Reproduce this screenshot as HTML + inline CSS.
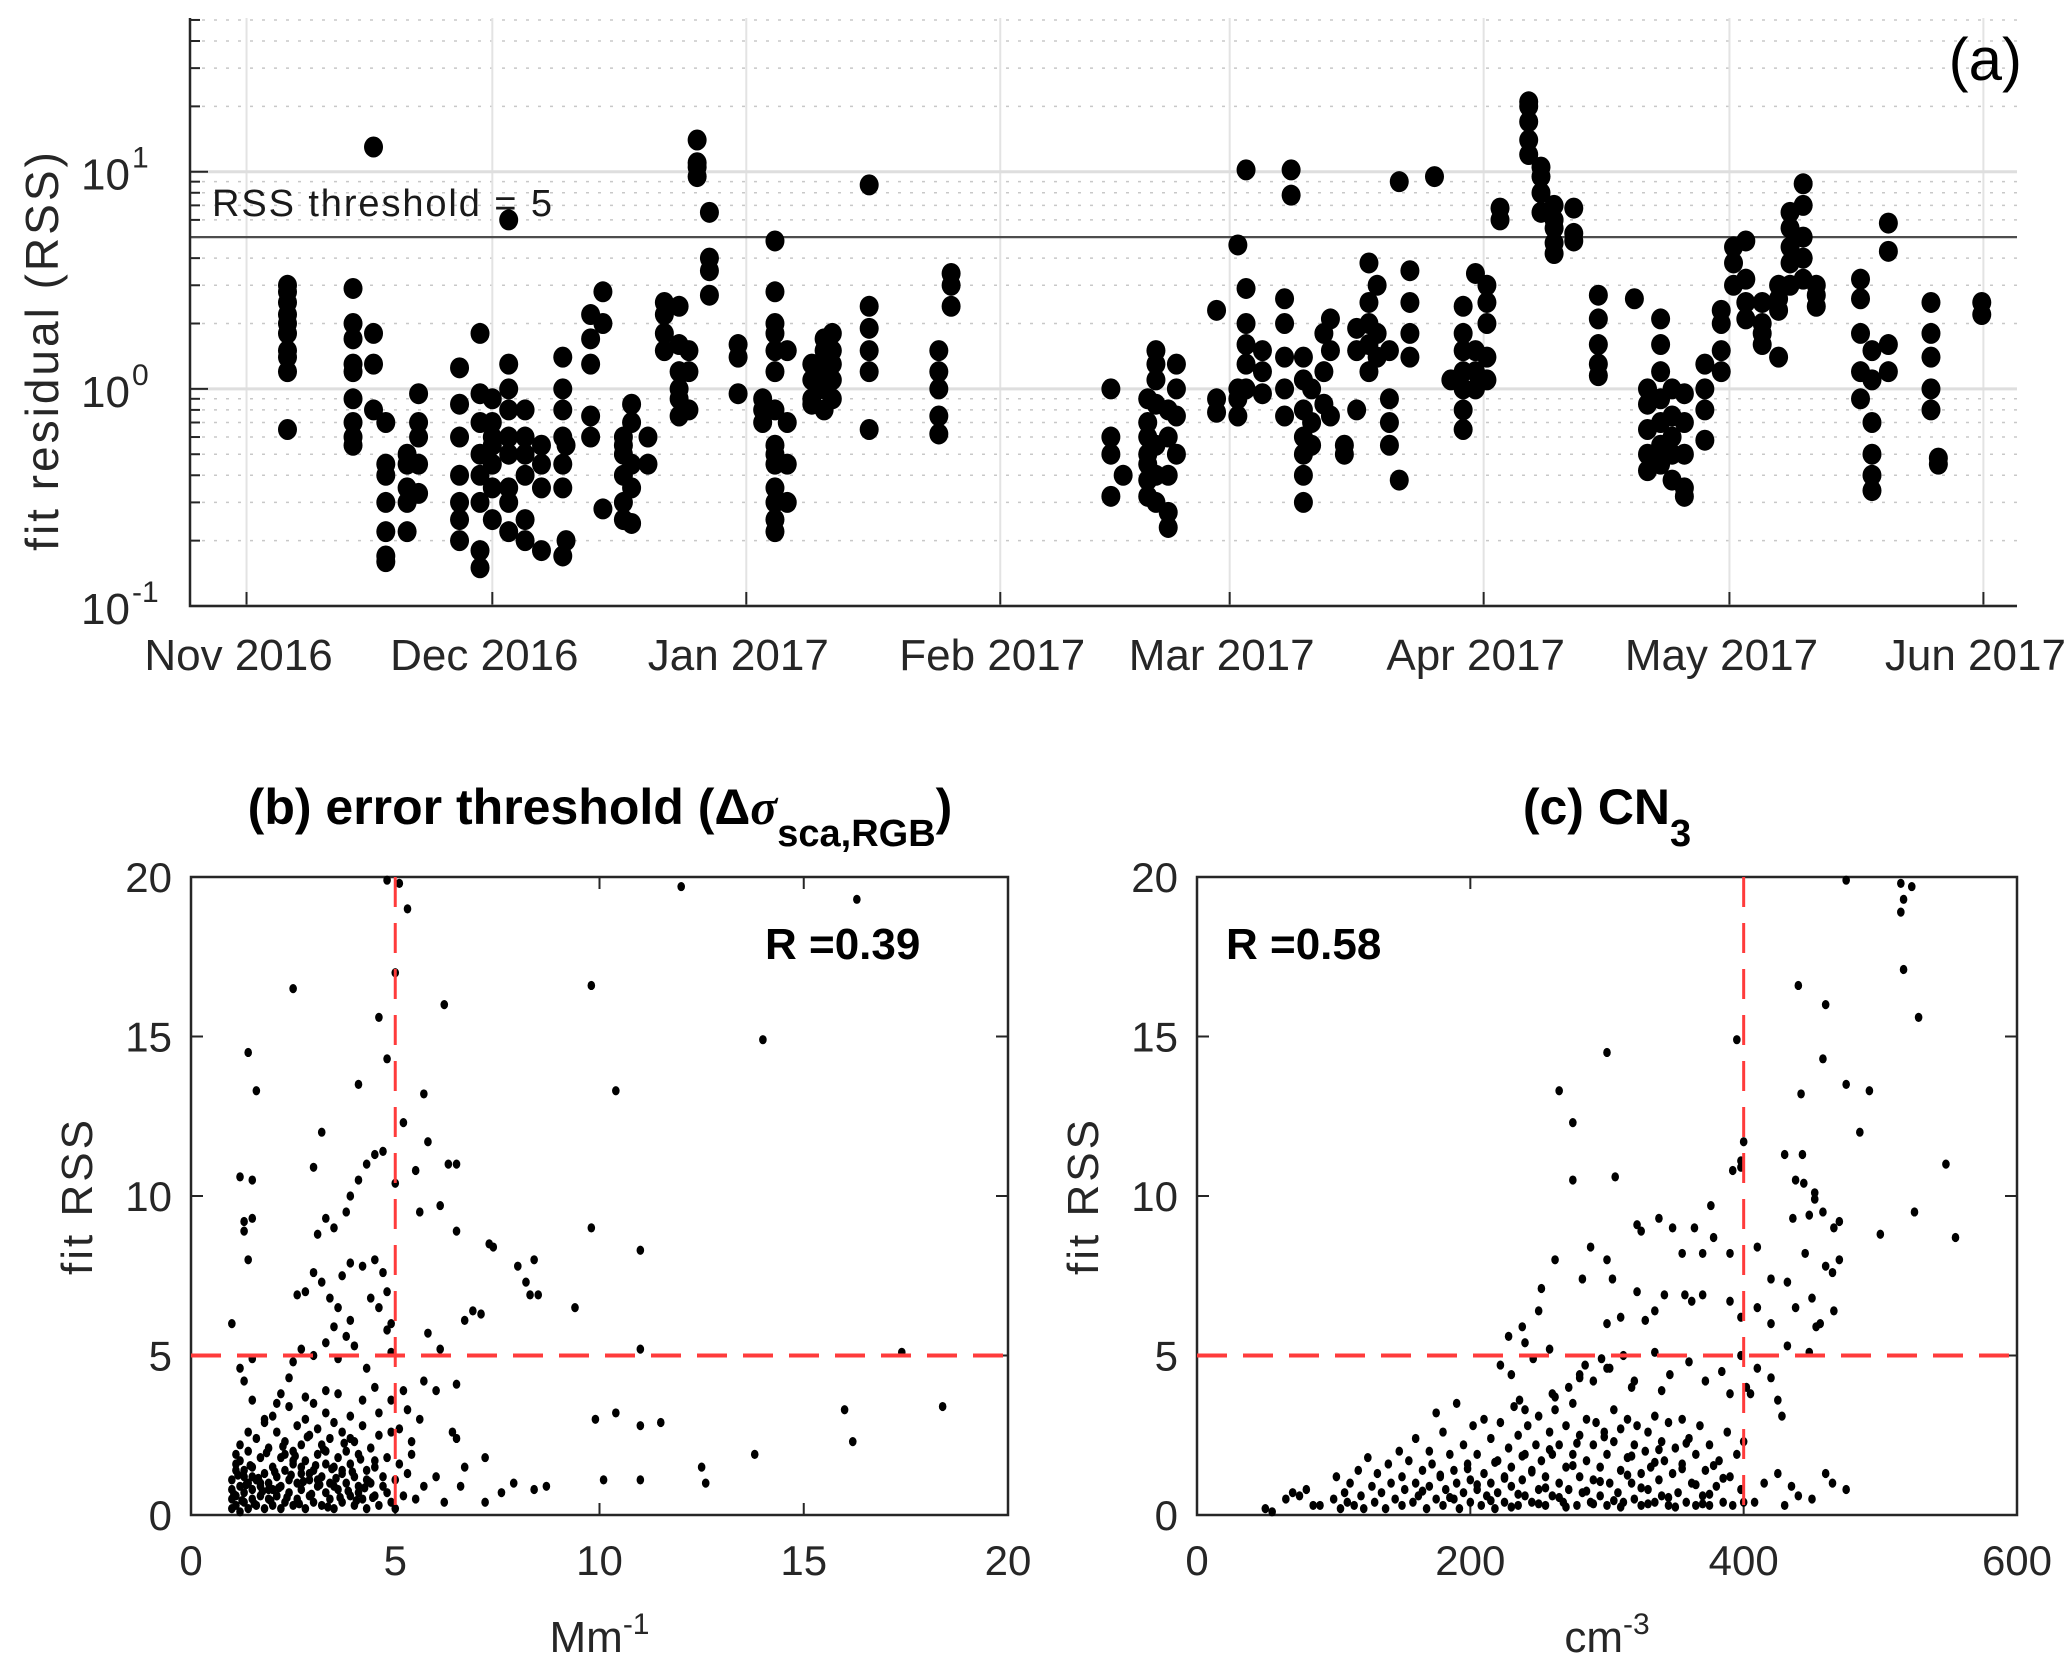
<!DOCTYPE html>
<html><head><meta charset="utf-8"><style>
html,body{margin:0;padding:0;background:#fff;}
svg{display:block;font-family:"Liberation Sans",Arial,sans-serif;}
</style></head><body>
<svg id="fig" width="2067" height="1667" viewBox="0 0 2067 1667" xmlns="http://www.w3.org/2000/svg">
<g id="pa"></g>
<g id="pb"></g>
<g id="pc"></g>
</svg>
<script>
// Panel a data: day offset from 1 Nov 2016, and RSS values per column
const aDays = [5,13,15.5,17,19.6,21,26,28.5,30,32,34,36,38.6,39,42,43.5,46,47,49,51,52.8,54,55,56.5,60,63,64.5,66,69,70.5,71.5,76,84.5,86,
105.5,107,110,111,112.5,113.5,118.4,121,122,124,126.7,127.5,129,130,131.5,132.3,134,135.5,137,138,139.5,140.7,142,145,147,148.5,150,151.4,153,156.5,158,159.6,162,165,169.4,171,172.6,174,175.5,178,180,181.5,183,185,187,188.4,190,191.6,197,198.4,200.4,205.6,206.5,211.8];
const aVals = [
[2.5,2.2,1.8,1.5,1.2,2.0,2.8,3.0,0.65,1.4],[2.9,2.0,1.7,1.2,0.9,0.7,0.55,0.6,1.3],[13,1.8,1.3,0.8],[0.4,0.3,0.22,0.16,0.17,0.7,0.45],[0.45,0.35,0.22,0.3,0.5],[0.6,0.45,0.33,0.7,0.95],
[0.85,0.6,0.4,0.3,0.25,0.2,1.25],[0.5,0.4,0.3,0.15,0.18,0.95,1.8,0.7],[0.7,0.55,0.45,0.35,0.25,0.6,0.9],[6.0,1.3,1.0,0.8,0.6,0.5,0.35,0.3,0.22],[0.8,0.5,0.4,0.25,0.2,0.6],[0.45,0.35,0.55,0.18],
[1.4,1.0,0.8,0.6,0.45,0.35,0.17],[0.2,0.55],[2.2,1.7,1.3,0.75,0.6],[2.8,2.0,0.28],[0.6,0.5,0.4,0.3,0.25,0.55],[0.85,0.7,0.45,0.35,0.24],[0.6,0.45],[2.5,2.2,1.8,1.5],
[2.4,1.6,1.2,1.0,0.9,0.75],[1.5,1.2,0.8],[14,11,9.5,10.5],[6.5,4,3.5,2.7],[1.6,1.4,0.95],[0.8,0.9,0.7],[4.8,2.8,2.0,1.8,1.5,1.2,0.8,0.55,0.5,0.45,0.35,0.3,0.25,0.22],[1.5,0.7,0.45,0.3],
[1.3,1.1,0.9,0.85],[1.7,1.5,1.3,1.2,1.0,0.8],[1.8,1.5,1.3,1.1,0.9],[8.7,2.4,1.9,1.5,1.2,0.65],[1.5,1.2,1.0,0.75,0.62],[3.4,3.0,2.4],
[1.0,0.6,0.5,0.32],[0.4],[0.9,0.7,0.6,0.5,0.45,0.38,0.32],[1.5,1.3,1.1,0.85,0.55,0.4,0.3],[0.8,0.6,0.4,0.27,0.23],[1.3,1.0,0.75,0.5],[2.3,0.9,0.78],[4.6,1.0,0.9,0.75],
[10.2,2.9,2.0,1.6,1.3,1.0],[1.5,1.2,0.95],[2.6,2.0,1.4,1.0,0.75],[10.2,7.8],[1.4,1.1,0.8,0.6,0.5,0.4,0.3],[1.0,0.7,0.55],[1.8,1.2,0.85],[2.1,1.5,0.75],[0.55,0.5],[1.9,1.5,0.8],
[3.8,2.5,2.0,1.6,1.2],[3.0,1.8,1.4],[1.5,0.9,0.7,0.55],[9.0,0.38],[3.5,2.5,1.8,1.4],[9.5],[1.1],[2.4,1.8,1.5,1.2,1.0,0.8,0.65],[3.4,1.5,1.2,1.0],[3.0,2.5,2.0,1.4,1.1],[6.8,6.0],
[21,20,17,14,12],[10.5,9.5,8,6.5],[7,6,5.5,4.7,4.2],[6.8,5.2,4.8],[2.7,2.1,1.6,1.3,1.15],[2.6],[1.0,0.85,0.65,0.5,0.42],[2.1,1.6,1.2,0.9,0.7,0.55,0.45],[1.0,0.75,0.6,0.5,0.38],
[0.95,0.7,0.5,0.35,0.32],[1.3,1.0,0.8,0.58],[2.3,2.0,1.5,1.2],[4.5,3.8,3.0],[4.8,3.2,2.5,2.1],[2.5,2.0,1.8,1.6],[3.0,2.6,2.3,1.4],[6.5,5.5,4.5,3.8,3.0],[8.8,7.0,5.0,4.0,3.2],[3.0,2.7,2.4],
[3.2,2.6,1.8,1.2,0.9],[1.5,1.1,0.7,0.5,0.4,0.34],[5.8,4.3,1.6,1.2],[2.5,1.8,1.4,1.0,0.8],[0.48,0.45],[2.5,2.2]];
const monthLabels = ["Nov 2016","Dec 2016","Jan 2017","Feb 2017","Mar 2017","Apr 2017","May 2017","Jun 2017"];
const monthDays = [0,30,61,92,120,151,181,212];
const rssThreshold = 5;

// Panel b data (Mm^-1, RSS)
const bX = [1.0,1.2,1.3,1.3,1.4,1.5,1.4,1.6,1.5,2.5,3.2,3.0,3.1,3.3,3.5,3.8,3.9,4.1,4.3,4.5,4.7,4.1,4.6,4.8,4.8,5.1,5.3,5.0,5.2,5.0,5.7,5.8,6.2,6.3,6.5,5.5,6.1,5.6,6.5,7.3,7.4,8.0,8.4,8.2,8.3,8.5,9.4,9.8,9.8,10.4,11.0,12.0,14.0,16.3,17.4,11.0,18.4,16.0,16.2,13.8,12.5,12.6,11.5,11.0,10.4,9.9,10.1,11.0,8.7,8.4,7.9,7.6,7.2,6.6,6.5,6.4,6.5,6.7,7.2,6.0,5.8,5.7,6.1,6.7,6.9,7.1,5.6,5.4,5.3,5.5,5.7,6.0,6.2,
2.6,2.8,3.0,3.2,3.4,3.6,3.7,3.9,4.2,4.5,4.7,4.4,4.6,4.8,4.9,4.8,3.9,3.8,3.5,3.3,3.0,2.7,2.5,2.4,2.2,3.6,4.0,4.3,4.5,4.9,1.2,1.3,1.5,1.5,
1.0,1.0,1.0,1.0,1.1,1.1,1.1,1.2,1.2,1.2,1.3,1.3,1.3,1.4,1.4,1.4,1.5,1.5,1.5,1.6,1.6,1.6,1.7,1.7,1.7,1.8,1.8,1.8,1.9,1.9,1.9,2.0,2.0,2.0,2.0,2.1,2.1,2.1,2.2,2.2,2.2,2.3,2.3,2.3,2.4,2.4,2.4,2.5,2.5,2.5,2.6,2.6,2.6,2.7,2.7,2.7,2.8,2.8,2.8,2.9,2.9,2.9,3.0,3.0,3.0,3.1,3.1,3.1,3.2,3.2,3.2,3.3,3.3,3.3,3.4,3.4,3.4,3.5,3.5,3.5,3.6,3.6,3.7,3.7,3.7,3.8,3.8,3.9,3.9,3.9,4.0,4.0,4.0,4.1,4.1,4.2,4.2,4.3,4.3,4.4,4.4,4.5,4.5,4.6,4.6,4.7,4.8,4.8,4.9,4.9,5.0,5.0,5.1,5.2,5.3,5.4,5.1,5.2,4.9,4.6,4.2,3.6,3.3,2.8,2.1,1.8,1.4,1.2,1.1,
1.05,1.15,1.25,1.35,1.45,1.55,1.65,1.75,1.85,1.95,2.05,2.15,2.25,2.35,2.45,2.55,2.65,2.75,2.85,2.95,3.05,3.15,3.25,3.35,3.45,3.55,3.65,3.75,3.85,3.95,4.05,4.15,4.25,4.35,4.45,1.1,1.3,1.5,1.7,1.9,2.1,2.3,2.5,2.7,2.9,3.1,3.3,3.5,3.7,3.9,4.1,4.3,4.5,4.7];
const bY = [6.0,10.6,8.9,9.2,8.0,10.5,14.5,13.3,9.3,16.5,12,10.9,8.8,9.3,9.0,9.5,10.0,10.5,11.0,11.3,11.4,13.5,15.6,14.3,19.9,19.8,19.0,17.0,12.3,10.4,13.2,11.7,16.0,11.0,11.0,10.8,9.7,9.5,8.9,8.5,8.4,7.8,8.0,7.3,6.9,6.9,6.5,9.0,16.6,13.3,8.3,19.7,14.9,19.3,5.1,5.2,3.4,3.3,2.3,1.9,1.5,1.0,2.9,2.8,3.2,3.0,1.1,1.1,0.9,0.8,1.0,0.7,0.4,0.9,2.4,2.6,4.1,1.5,1.8,3.9,5.7,4.2,5.2,6.1,6.4,6.3,3.0,2.3,1.3,0.5,0.9,1.2,0.4,
6.9,7.0,7.6,7.3,6.8,6.5,7.5,7.9,7.8,8.0,7.6,6.8,6.5,7.0,6.0,5.8,6.1,5.6,5.9,5.4,5.0,5.2,4.8,4.3,3.8,4.9,5.3,4.6,4.0,5.1,4.6,4.2,3.6,4.9,
0.2,0.5,0.8,1.1,0.3,0.6,1.4,0.1,0.9,1.7,0.4,0.7,1.2,0.2,1.0,2.0,0.5,0.8,1.5,0.3,1.1,2.4,0.6,0.9,1.8,0.2,1.3,2.9,0.5,1.0,2.1,0.3,0.8,1.5,3.1,0.6,1.2,2.6,0.2,0.9,1.8,0.4,1.4,2.3,0.7,1.1,3.4,0.3,1.6,2.0,0.5,1.0,2.8,0.8,1.3,2.2,0.2,1.7,3.0,0.6,1.1,2.5,0.4,1.4,3.5,0.9,1.9,2.7,0.3,1.2,2.2,0.7,1.6,3.2,0.5,1.0,2.4,0.2,1.5,2.9,0.8,1.8,0.4,1.3,2.6,1.0,2.0,0.6,1.6,3.1,0.3,1.2,2.3,0.9,1.9,0.5,2.8,1.4,0.2,1.0,2.1,0.6,1.7,0.3,2.5,1.2,0.7,1.8,0.4,2.6,1.1,0.2,1.6,0.6,3.3,1.9,2.7,3.9,3.6,3.2,3.6,3.8,3.9,3.7,3.5,3.0,2.6,2.2,1.9,
0.65,1.25,0.45,0.95,1.55,0.35,1.15,0.75,1.95,0.45,1.35,0.85,2.15,0.55,1.25,1.85,0.35,1.05,2.45,0.65,1.55,0.95,2.05,0.25,1.45,1.15,0.55,2.25,0.75,1.35,0.45,1.75,0.85,1.05,0.55,1.6,1.4,1.2,1.0,0.8,0.6,1.9,1.7,1.5,1.3,1.1,2.0,0.9,1.4,2.4,0.7,1.1,1.5,0.9];

// Panel c data (cm^-3, RSS)
const cX = [475,515,523,517,515,517,528,440,460,395,300,458,265,475,442,492,275,485,400,398,430,443,392,398,438,444,452,548,275,306,525,555,500,470,466,458,448,436,452,376,364,348,338,322,325,300,288,262,252,282,304,322,342,355,370,378,390,410,420,432,445,460,465,470,438,450,466,456,420,410,398,390,370,362,357,335,328,310,300,250,238,228,240,258,222,230,236,240,246,262,272,280,284,290,296,302,312,318,335,346,360,372,384,390,398,402,410,405,420,425,428,432,448,453,
50,55,65,70,75,80,85,90,100,102,105,108,110,112,115,118,120,122,125,128,130,132,135,138,140,142,145,148,150,150,152,155,158,160,160,162,165,168,170,170,172,175,175,178,180,180,182,185,188,188,190,190,192,195,195,198,200,200,202,205,205,208,210,210,212,215,215,218,220,220,222,225,225,228,230,230,232,235,235,238,240,240,242,245,245,248,250,250,252,255,255,258,260,260,262,265,265,268,270,270,272,275,275,278,280,280,282,285,285,288,290,290,292,295,295,298,300,300,302,305,305,308,310,310,312,315,315,318,320,320,322,325,325,328,330,330,332,335,335,338,340,340,342,345,345,348,350,352,355,355,358,360,362,365,365,368,370,372,375,375,380,382,385,388,390,392,395,398,400,400,408,415,425,430,435,440,450,460,465,475,
165,185,205,215,225,235,245,255,265,275,285,295,305,315,325,335,345,355,365,375,385,178,198,218,238,258,278,298,318,338,358,378,230,250,270,290,310,330,350,370,260,280,300,320,340];
const cY = [19.9,19.8,19.7,19.3,18.9,17.1,15.6,16.6,16.0,14.9,14.5,14.3,13.3,13.5,13.2,13.3,12.3,12.0,11.7,11.1,11.3,11.3,10.8,10.9,10.5,10.4,10.1,11.0,10.5,10.6,9.5,8.7,8.8,9.2,9.0,9.5,9.4,9.3,9.9,9.7,9.0,9.0,9.3,9.1,8.9,8.0,8.4,8.0,7.1,7.4,7.4,7.0,6.9,8.2,8.2,8.7,8.2,8.4,7.4,7.3,8.2,7.8,7.6,8.0,6.5,6.8,6.4,6.0,6.0,6.5,6.2,6.7,6.9,6.7,6.9,6.4,6.1,6.2,6.0,6.4,5.9,5.6,5.4,5.2,4.7,4.4,3.6,3.3,4.9,3.7,4.0,4.3,4.7,4.2,4.9,4.6,5.0,4.0,5.1,4.4,4.8,4.2,4.5,3.8,5.0,4.0,4.6,3.8,4.3,3.6,3.1,5.3,5.1,5.9,
0.2,0.1,0.5,0.7,0.6,0.8,0.3,0.3,0.5,1.2,0.2,0.7,0.4,1.0,0.3,1.4,0.6,0.2,1.8,0.9,0.4,1.3,0.7,0.2,1.6,1.0,0.5,2.0,0.3,1.2,0.8,1.7,0.4,1.0,2.4,0.6,1.4,0.2,0.9,2.0,1.6,0.5,3.2,1.2,0.3,2.6,0.8,1.9,0.5,1.4,1.0,3.5,0.2,2.2,0.7,1.6,0.4,1.1,2.8,0.8,1.9,0.3,1.3,3.0,0.6,2.4,1.0,0.2,1.7,0.7,2.9,1.2,0.4,2.1,0.9,1.5,3.4,0.3,2.5,1.1,0.6,1.9,2.8,0.4,1.4,2.2,0.8,3.1,1.7,0.3,1.2,2.6,0.6,1.9,3.3,1.0,2.2,0.4,1.5,2.8,0.8,1.9,3.5,0.3,1.2,2.5,0.7,1.7,3.0,0.4,1.1,2.2,2.9,0.6,1.5,2.6,0.3,1.9,1.0,2.3,3.3,0.7,1.4,2.7,0.4,1.8,3.0,1.0,2.2,0.5,2.8,1.3,0.3,2.0,0.8,2.6,1.5,0.4,3.1,1.1,2.3,0.6,1.7,2.9,0.3,1.3,2.1,0.7,1.6,3.0,0.4,2.4,1.0,0.3,1.9,2.8,0.6,1.4,0.3,2.2,0.9,1.7,0.4,2.6,1.2,0.3,1.9,0.8,2.3,0.4,0.4,1.0,1.3,0.3,0.9,0.6,0.5,1.3,1.0,0.8,
0.75,0.55,0.95,0.45,1.15,0.65,1.35,0.85,0.55,1.55,0.75,1.05,0.45,1.25,0.85,1.65,0.55,1.45,0.95,0.65,1.15,1.25,1.45,1.65,1.85,2.05,2.25,2.45,1.85,2.05,2.25,1.55,0.25,0.35,0.25,0.35,0.25,0.35,0.25,0.35,3.8,4.4,4.6,4.2,3.9];
const bTicks = [0,5,10,15,20];
const cTicks = [0,200,400,600];
const yTicks = [0,5,10,15,20];

const NS = "http://www.w3.org/2000/svg";
function mk(parent, tag, attrs, text){
  const e = document.createElementNS(NS, tag);
  for (const k in attrs) e.setAttribute(k, attrs[k]);
  if (text !== undefined) e.textContent = text;
  parent.appendChild(e);
  return e;
}

// ---------- Panel a ----------
(function(){
  const g = document.getElementById('pa');
  const L=190, R=2017, T=18, B=606;
  const d0=-6.9, d1=216.1;
  const lmin=-1, lmax=1.708;
  const xs = d => L + (d-d0)/(d1-d0)*(R-L);
  const ys = v => B - (Math.log10(v)-lmin)/(lmax-lmin)*(B-T);
  for (let dec=-1; dec<=1; dec++){
    for (let m=2; m<=9; m++){
      const v=m*Math.pow(10,dec); if (Math.log10(v)>lmax) continue;
      const y=ys(v);
      const l = mk(g,'line',{x1:L,x2:R,y1:y,y2:y,stroke:'#c8c8c8','stroke-width':1.5,'stroke-dasharray':'3 9'});
      
      
      const t = mk(g,'line',{x1:L,x2:L+10,y1:y,y2:y,stroke:'#262626','stroke-width':2});
      
      
    }
  }
  monthDays.forEach((d,i)=>{
    const x=xs(d);
    const l = mk(g,'line',{x1:x,x2:x,y1:T,y2:B,stroke:'#e3e3e3','stroke-width':2});
    
    
    const t = mk(g,'line',{x1:x,x2:x,y1:B,y2:B-14,stroke:'#262626','stroke-width':2});
    
    
    const tx = mk(g,'text',{x:x-8,y:670,'font-size':44,'text-anchor':'middle',fill:'#262626'},monthLabels[i]);
    
    
  });
  [0.1,1,10].forEach((v,i)=>{
    const y=ys(v);
    const l = mk(g,'line',{x1:L,x2:R,y1:y,y2:y,stroke:'#dedede','stroke-width':3});
    
    
    const t = mk(g,'line',{x1:L,x2:L+18,y1:y,y2:y,stroke:'#262626','stroke-width':2});
    
    
    const tx = mk(g,'text',{x:130,y:y+18,'font-size':44,'text-anchor':'end',fill:'#262626'},'10');
    
    
    const sp = mk(g,'text',{x:132,y:y-4,'font-size':30,fill:'#262626'},String(i-1));
    
    
  });
  const ty=ys(rssThreshold);
  const th = mk(g,'line',{x1:L,x2:R,y1:ty,y2:ty,stroke:'#4d4d4d','stroke-width':2.2});
  
  
  const tl = mk(g,'text',{x:212,y:216,'font-size':38,fill:'#1a1a1a','textLength':340},'RSS threshold = 5');
  
  
  aDays.forEach((d,i)=>{
    aVals[i].forEach(v=>{
      const c = mk(g,'ellipse',{cx:xs(d),cy:ys(v),rx:9.5,ry:10.5,fill:'#000'});
      
      
    });
  });
  const ax = mk(g,'path',{d:`M${L},${T} L${L},${B} L${R},${B}`,fill:'none',stroke:'#262626','stroke-width':2.5});
  
  
  const yl = mk(g,'text',{x:0,y:0,'font-size':46,'text-anchor':'middle',fill:'#262626',transform:'translate(58,350) rotate(-90)','letter-spacing':'3'},'fit residual (RSS)');
  
  
  const pl = mk(g,'text',{x:2022,y:80,'font-size':60,'text-anchor':'end',fill:'#000'},'(a)');
  
  
})();

// ---------- Panels b, c ----------
function scatter(id, L, R, xmax, xT, X, Y, vline, unit, unitSup, rLabel, rx, ylx, tickLblX){
  const g = document.getElementById(id);
  const T=877, B=1515;
  const xs = v => L + v/xmax*(R-L);
  const ys = v => B - v/20*(B-T);
  const box = mk(g,'rect',{x:L,y:T,width:R-L,height:B-T,fill:'none',stroke:'#262626','stroke-width':2.5});
  
  
  xT.forEach(v=>{
    const x=xs(v);
    const t1 = mk(g,'line',{x1:x,x2:x,y1:B,y2:B-12,stroke:'#262626','stroke-width':2});
    
    
    const t2 = mk(g,'line',{x1:x,x2:x,y1:T,y2:T+12,stroke:'#262626','stroke-width':2});
    
    
    const tx = mk(g,'text',{x:x,y:1575,'font-size':42,'text-anchor':'middle',fill:'#262626'},String(v));
    
    
  });
  yTicks.forEach(v=>{
    const y=ys(v);
    const t1 = mk(g,'line',{x1:L,x2:L+12,y1:y,y2:y,stroke:'#262626','stroke-width':2});
    
    
    const t2 = mk(g,'line',{x1:R,x2:R-12,y1:y,y2:y,stroke:'#262626','stroke-width':2});
    
    
    const tx = mk(g,'text',{x:tickLblX,y:y+15,'font-size':42,'text-anchor':'end',fill:'#262626'},String(v));
    
    
  });
  X.forEach((v,i)=>{
    const c = mk(g,'ellipse',{cx:xs(v),cy:ys(Y[i]),rx:3.8,ry:4.6,fill:'#000'});
    
    
  });
  const vx=xs(vline), hy=ys(5);
  const vl = mk(g,'line',{x1:vx,x2:vx,y1:T,y2:B,stroke:'#ff3b3b','stroke-width':3,'stroke-dasharray':'30 16'});
  
  
  const hl = mk(g,'line',{x1:L,x2:R,y1:hy,y2:hy,stroke:'#ff3b3b','stroke-width':4,'stroke-dasharray':'30 16'});
  
  
  const rl = mk(g,'text',{x:rx,y:959,'font-size':44,'font-weight':'bold',fill:'#000'},rLabel);
  
  
  const yl = mk(g,'text',{x:0,y:0,'font-size':44,'text-anchor':'middle',fill:'#262626',transform:`translate(${ylx},1196) rotate(-90)`,'letter-spacing':'3'},'fit RSS');
  
  
  const ul = mk(g,'text',{x:(L+R)/2,y:1652,'font-size':44,'text-anchor':'middle',fill:'#262626'});
  
  
  mk(ul,'tspan',{},unit);
  mk(ul,'tspan',{dy:-18,'font-size':30},unitSup);
  return g;
}
const gb = scatter('pb',191,1008,20,bTicks,bX,bY,5,'Mm','-1','R =0.39',765,92,172);
const gc = scatter('pc',1197,2017,600,cTicks,cX,cY,400,'cm','-3','R =0.58',1226,1098,1178);
(function(){
  const tb = mk(gb,'text',{x:600,y:824,'font-size':50,'font-weight':'bold','text-anchor':'middle',fill:'#000'});
  
  
  mk(tb,'tspan',{},'(b) error threshold (Δ');
  mk(tb,'tspan',{'font-family':'"Liberation Serif",serif','font-style':'italic'},'σ');
  mk(tb,'tspan',{dy:22,'font-size':38},'sca,RGB');
  mk(tb,'tspan',{dy:-22},')');
  const tc = mk(gc,'text',{x:1607,y:824,'font-size':50,'font-weight':'bold','text-anchor':'middle',fill:'#000'});
  
  
  mk(tc,'tspan',{},'(c) CN');
  mk(tc,'tspan',{dy:22,'font-size':38},'3');
})();
</script>
</body></html>
